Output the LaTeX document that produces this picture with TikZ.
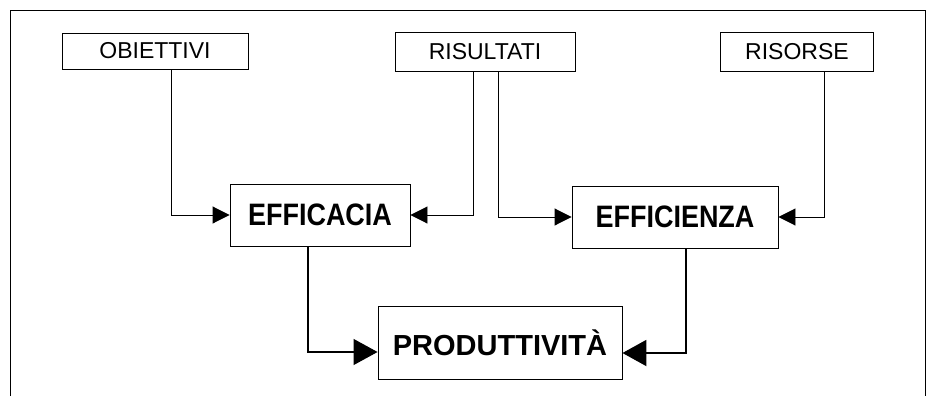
\documentclass[tikz,border=0pt]{standalone}
\usepackage{fontspec}
\setmainfont{Liberation Sans}
\newfontfamily\boldnarrow[FakeStretch=0.87]{Liberation Sans Bold}
\usetikzlibrary{arrows.meta, positioning, calc}

\tikzset{
  inbox/.style={draw, line width=0.9pt, inner sep=0pt, font=\fontsize{23}{27}\selectfont},
  outbox/.style={draw, line width=0.9pt, inner sep=0pt, font=\boldnarrow\fontsize{31}{35}\selectfont, minimum height=62pt},
  link/.style={line width=0.9pt, -{Triangle[length=17pt, width=17pt]}},
  biglink/.style={line width=1.2pt, -{Triangle[length=24pt, width=26pt]}}
}

\begin{document}
\begin{tikzpicture}[x=1pt, y=-1pt]
	\useasboundingbox (0,0) rectangle (931,396);

	% frame
	\draw[line width=0.9pt] (10,396) -- (10,10) -- (925,10) -- (925,396);

	\node[inbox, minimum width=186pt, minimum height=36pt] (obiettivi) at (155,51) {OBIETTIVI};
	\node[inbox, minimum width=180pt, minimum height=39pt] (risultati) at (485,52) {RISULTATI};
	\node[inbox, minimum width=153pt, minimum height=39pt] (risorse) at (797,52) {RISORSE};

	\node[outbox, minimum width=180pt] (efficacia) at (320,215) {EFFICACIA};
	\node[outbox, minimum width=206pt] (efficienza) at (675,217) {EFFICIENZA};
	\node[outbox, minimum width=244pt, minimum height=73pt, font=\bfseries\fontsize{29}{33}\selectfont] (produttivita) at (500,343) {PRODUTTIVITÀ};

	\draw[link] ([xshift=16pt]obiettivi.south) |- (efficacia.west);
	\draw[link] ([xshift=-12pt]risultati.south) |- (efficacia.east);
	\draw[link] ([xshift=13pt]risultati.south) |- (efficienza.west);
	\draw[link] ([xshift=27pt]risorse.south) |- (efficienza.east);

	\draw[biglink] ([xshift=-12pt]efficacia.south) |- ([yshift=-9pt]produttivita.west);
	\draw[biglink, line width=2pt] ([xshift=11pt]efficienza.south) |- ([yshift=-10pt]produttivita.east);
\end{tikzpicture}
\end{document}
